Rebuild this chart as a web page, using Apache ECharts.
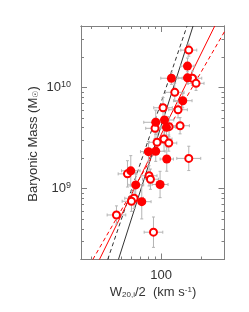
<!DOCTYPE html>
<html>
<head>
<meta charset="utf-8">
<script src="https://cdn.jsdelivr.net/npm/echarts@6/dist/echarts.min.js"></script>
<style>
html,body{margin:0;padding:0;background:#fff;}
#c{width:249px;height:312px;}
</style>
</head>
<body>
<div id="c"></div>
<script>
// ---- data (velocity in km/s, mass in solar masses, errors in dex) ----
const filledV = [158.0, 119.7, 158.0, 145.6, 91.2, 106.1, 109.8, 80.4, 91.2, 110.4, 59.2, 64.5, 98.3, 71.6];
const filledM = [1.62e10, 1.23e10, 1.24e10, 7.38e9, 4.52e9, 4.76e9, 4.03e9, 2.32e9, 2.34e9, 1.96e9, 1.50e9, 1.09e9, 1.10e9, 7.44e8];
const filledVErr = [0.05, 0.08, 0.07, 0.07, 0.09, 0.07, 0.07, 0.06, 0.07, 0.05, 0.07, 0.06, 0.06, 0.07];
const filledMErr = [0.08, 0.06, 0.06, 0.07, 0.12, 0.15, 0.10, 0.10, 0.10, 0.12, 0.15, 0.12, 0.13, 0.17];

const openV = [161.6, 172.2, 183.3, 126.8, 103.5, 134.2, 90.1, 114.9, 139.0, 105.3, 93.3, 114.3, 161.6, 55.9, 81.2, 83.2, 62.7, 59.9, 46.2, 87.7];
const openM = [2.33e10, 1.23e10, 1.095e10, 8.93e9, 6.29e9, 6.01e9, 3.94e9, 4.09e9, 4.18e9, 3.09e9, 2.87e9, 2.82e9, 1.99e9, 1.40e9, 1.34e9, 1.24e9, 8.04e8, 7.51e8, 5.50e8, 3.72e8];
const openVErr = [0.06, 0.07, 0.06, 0.07, 0.07, 0.07, 0.07, 0.06, 0.07, 0.06, 0.06, 0.06, 0.09, 0.07, 0.06, 0.06, 0.07, 0.07, 0.07, 0.07];
const openMErr = [0.06, 0.07, 0.07, 0.09, 0.10, 0.08, 0.10, 0.10, 0.08, 0.12, 0.10, 0.08, 0.12, 0.13, 0.10, 0.10, 0.10, 0.10, 0.09, 0.15];

// fit lines (two end points each)
const fitBlackSolid = [[47.8, 2.0e8], [174.1, 4.03e10]];
const fitBlackDashed = [[39.7, 2.0e8], [156.8, 4.03e10]];
const fitRedSolid = [[34.4, 2.0e8], [253.4, 4.03e10]];
const fitRedDashed = [[30.66, 2.0e8], [300, 3.55e10]];

// axes
const xRange = [25, 300];
const yRange = [2.0e8, 4.03e10];
const xTicksMajor = [100];
const xTicksMinor = [30, 40, 50, 60, 70, 80, 90, 200];
const yTicksMajor = [1e9, 1e10];
const yTicksMinor = [3e8, 4e8, 5e8, 6e8, 7e8, 8e8, 9e8, 2e9, 3e9, 4e9, 5e9, 6e9, 7e9, 8e9, 9e9, 2e10, 3e10];

const AX = '#808080';
const TXT = '#333333';
const FONT = '"Liberation Sans", Arial, sans-serif';
const RED = '#ff0000';

const chart = echarts.init(document.getElementById('c'), null, {renderer: 'canvas'});

function mkX(pos, ticks, len, labels) {
  return {
    type: 'log', logBase: 10, min: xRange[0], max: xRange[1], position: pos,
    axisLine: {show: true, onZero: false, lineStyle: {color: AX, width: 1}},
    axisTick: {show: true, inside: true, length: len, customValues: ticks, lineStyle: {color: AX, width: 1}},
    axisLabel: labels ? {show: true, customValues: xTicksMajor, margin: 9, color: TXT, fontSize: 13, fontFamily: FONT,
      formatter: v => String(Math.round(v))} : {show: false},
    splitLine: {show: false}, minorTick: {show: false}
  };
}
function mkY(pos, ticks, len, labels) {
  return {
    type: 'log', logBase: 10, min: yRange[0], max: yRange[1], position: pos,
    axisLine: {show: true, onZero: false, lineStyle: {color: AX, width: 1}},
    axisTick: {show: true, inside: true, length: len, customValues: ticks, lineStyle: {color: AX, width: 1}},
    axisLabel: labels ? {show: true, customValues: yTicksMajor, margin: 10, color: TXT, fontFamily: FONT,
      formatter: v => '{b|10}{s|' + Math.round(Math.log10(v)) + '}',
      rich: {b: {fontSize: 13, fontFamily: FONT, color: TXT}, s: {fontSize: 9, fontFamily: FONT, color: TXT, verticalAlign: 'top', padding: [0, 0, 6, 0]}}} : {show: false},
    splitLine: {show: false}, minorTick: {show: false}
  };
}

function pts(vs, ms) { return vs.map((v, i) => [v, ms[i], 0, 0]); }
function errData(vs, ms, ve, me) { return vs.map((v, i) => [v, ms[i], ve[i], me[i]]); }

function errRender(params, api) {
  const v = api.value(0), m = api.value(1), ev = api.value(2), em = api.value(3);
  const fv = Math.pow(10, ev), fm = Math.pow(10, em);
  const c = api.coord([v, m]);
  const l = api.coord([v / fv, m]), r = api.coord([v * fv, m]);
  const b = api.coord([v, m / fm]), t = api.coord([v, m * fm]);
  const cap = 1.5;
  const st = {stroke: '#b4b4b4', lineWidth: 1, fill: null};
  return {
    type: 'group',
    children: [
      {type: 'line', shape: {x1: l[0], y1: c[1], x2: r[0], y2: c[1]}, style: st},
      {type: 'line', shape: {x1: c[0], y1: t[1], x2: c[0], y2: b[1]}, style: st},
      {type: 'line', shape: {x1: l[0], y1: c[1] - cap, x2: l[0], y2: c[1] + cap}, style: st},
      {type: 'line', shape: {x1: r[0], y1: c[1] - cap, x2: r[0], y2: c[1] + cap}, style: st},
      {type: 'line', shape: {x1: c[0] - cap, y1: t[1], x2: c[0] + cap, y2: t[1]}, style: st},
      {type: 'line', shape: {x1: c[0] - cap, y1: b[1], x2: c[0] + cap, y2: b[1]}, style: st}
    ]
  };
}

function fitLine(data, color, dashed) {
  return {
    type: 'line', data: data, xAxisIndex: 0, yAxisIndex: 0, symbol: 'none', clip: true, silent: true,
    lineStyle: {color: color, width: 1, type: dashed ? [4, 3] : 'solid'}, z: 2, animation: false
  };
}

const option = {
  animation: false,
  backgroundColor: '#fff',
  grid: {left: 81, top: 26, width: 143.5, height: 233.5, containLabel: false},
  xAxis: [
    mkX('bottom', xTicksMajor, 6, true),
    mkX('bottom', xTicksMinor, 3, false),
    mkX('top', xTicksMajor, 6, false),
    mkX('top', xTicksMinor, 3, false)
  ],
  yAxis: [
    mkY('left', yTicksMajor, 6, true),
    mkY('left', yTicksMinor, 3, false),
    mkY('right', yTicksMajor, 6, false),
    mkY('right', yTicksMinor, 3, false)
  ],
  series: [
    fitLine(fitBlackDashed, '#333333', true),
    fitLine(fitBlackSolid, '#333333', false),
    fitLine(fitRedDashed, RED, true),
    fitLine(fitRedSolid, RED, false),
    {type: 'custom', renderItem: errRender, data: errData(filledV, filledM, filledVErr, filledMErr), xAxisIndex: 0, yAxisIndex: 0, z: 3, silent: true, clip: true},
    {type: 'custom', renderItem: errRender, data: errData(openV, openM, openVErr, openMErr), xAxisIndex: 0, yAxisIndex: 0, z: 3, silent: true, clip: true},
    {type: 'scatter', data: pts(openV, openM), xAxisIndex: 0, yAxisIndex: 0, symbol: 'circle', symbolSize: 7,
      itemStyle: {color: '#ffffff', borderColor: RED, borderWidth: 2, opacity: 1}, z: 4, silent: true},
    {type: 'scatter', data: pts(filledV, filledM), xAxisIndex: 0, yAxisIndex: 0, symbol: 'circle', symbolSize: 9,
      itemStyle: {color: RED, opacity: 1}, z: 5, silent: true}
  ],
  graphic: [
    {type: 'text', x: 33, y: 144, rotation: Math.PI / 2,
      style: {text: '{n|Baryonic Mass (M}{s|☉}{n|)}', align: 'center', verticalAlign: 'middle',
        rich: {n: {fontSize: 13, fontFamily: FONT, fill: TXT, color: TXT}, s: {fontSize: 8, fontFamily: '"DejaVu Sans", sans-serif', fill: TXT, color: TXT, verticalAlign: 'bottom'}}}},
    {type: 'text', x: 153, y: 292,
      style: {text: '{n|W}{sub|20,i}{n|/2  (km s}{sup|-1}{n|)}', align: 'center', verticalAlign: 'middle',
        rich: {n: {fontSize: 13, fontFamily: FONT, fill: TXT, color: TXT},
          sub: {fontSize: 8, fontFamily: FONT, fill: TXT, color: TXT, verticalAlign: 'bottom'},
          sup: {fontSize: 8, fontFamily: FONT, fill: TXT, color: TXT, verticalAlign: 'top'}}}}
  ]
};
chart.setOption(option);
</script>
</body>
</html>
